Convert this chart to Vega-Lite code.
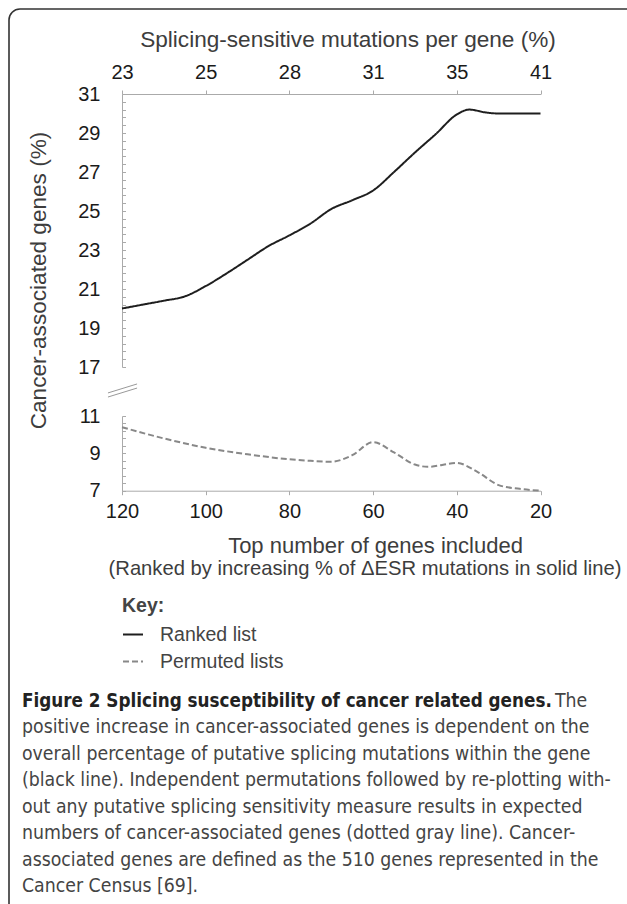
{
  "$schema": "https://vega.github.io/schema/vega-lite/v6.json",
  "width": 640,
  "height": 912,
  "autosize": {"type": "none"},
  "padding": {"left": 9, "top": 9, "right": -22, "bottom": -17},
  "background": "white",
  "config": {
    "view": {"stroke": "#333333", "strokeWidth": 1.6, "cornerRadius": 11},
    "font": "Liberation Sans",
    "axis": {
      "grid": false,
      "labelFlush": false,
      "labelOverlap": false,
      "domainColor": "#aaaaaa",
      "tickColor": "#aaaaaa",
      "labelFont": "Liberation Sans",
      "titleFont": "Liberation Sans",
      "labelColor": "#1a1a1a",
      "titleColor": "#3d3d3d",
      "titleFontWeight": "normal",
      "labelFontSize": 20,
      "titleFontSize": 22.6
    }
  },
  "datasets": {
    "ranked": [
      {"series": "Ranked list", "genes": 120, "pct": 20.0},
      {"series": "Ranked list", "genes": 115, "pct": 20.2},
      {"series": "Ranked list", "genes": 110, "pct": 20.4},
      {"series": "Ranked list", "genes": 105, "pct": 20.62},
      {"series": "Ranked list", "genes": 100, "pct": 21.15},
      {"series": "Ranked list", "genes": 95, "pct": 21.8},
      {"series": "Ranked list", "genes": 90, "pct": 22.5},
      {"series": "Ranked list", "genes": 85, "pct": 23.2},
      {"series": "Ranked list", "genes": 80, "pct": 23.75},
      {"series": "Ranked list", "genes": 75, "pct": 24.35},
      {"series": "Ranked list", "genes": 70, "pct": 25.1},
      {"series": "Ranked list", "genes": 65, "pct": 25.55},
      {"series": "Ranked list", "genes": 60, "pct": 26.05},
      {"series": "Ranked list", "genes": 55, "pct": 27.0},
      {"series": "Ranked list", "genes": 50, "pct": 28.0},
      {"series": "Ranked list", "genes": 45, "pct": 28.95},
      {"series": "Ranked list", "genes": 40, "pct": 29.95},
      {"series": "Ranked list", "genes": 37, "pct": 30.2},
      {"series": "Ranked list", "genes": 33, "pct": 30.05},
      {"series": "Ranked list", "genes": 30, "pct": 30.0},
      {"series": "Ranked list", "genes": 25, "pct": 30.0},
      {"series": "Ranked list", "genes": 20, "pct": 30.0}
    ],
    "permuted": [
      {"series": "Permuted lists", "genes": 120, "pct": 10.4},
      {"series": "Permuted lists", "genes": 110, "pct": 9.8},
      {"series": "Permuted lists", "genes": 100, "pct": 9.3},
      {"series": "Permuted lists", "genes": 90, "pct": 8.95},
      {"series": "Permuted lists", "genes": 80, "pct": 8.68},
      {"series": "Permuted lists", "genes": 75, "pct": 8.6},
      {"series": "Permuted lists", "genes": 70, "pct": 8.55},
      {"series": "Permuted lists", "genes": 65, "pct": 8.9},
      {"series": "Permuted lists", "genes": 60, "pct": 9.6},
      {"series": "Permuted lists", "genes": 55, "pct": 9.05},
      {"series": "Permuted lists", "genes": 50, "pct": 8.4},
      {"series": "Permuted lists", "genes": 47, "pct": 8.28},
      {"series": "Permuted lists", "genes": 40, "pct": 8.48},
      {"series": "Permuted lists", "genes": 35, "pct": 8.0},
      {"series": "Permuted lists", "genes": 30, "pct": 7.3},
      {"series": "Permuted lists", "genes": 25, "pct": 7.1},
      {"series": "Permuted lists", "genes": 20, "pct": 7.0}
    ],
    "breaks": [
      {"xa": 123.35, "xb": 116.4, "ya": 15.67, "yb": 16.13},
      {"xa": 123.35, "xb": 116.4, "ya": 15.46, "yb": 15.92}
    ],
    "caption": [
      {"line": 1, "text": "positive increase in cancer-associated genes is dependent on the"},
      {"line": 2, "text": "overall percentage of putative splicing mutations within the gene"},
      {"line": 3, "text": "(black line). Independent permutations followed by re-plotting with-"},
      {"line": 4, "text": "out any putative splicing sensitivity measure results in expected"},
      {"line": 5, "text": "numbers of cancer-associated genes (dotted gray line). Cancer-"},
      {"line": 6, "text": "associated genes are defined as the 510 genes represented in the"},
      {"line": 7, "text": "Cancer Census [69]."}
    ]
  },
  "layer": [
    {
      "data": {"name": "ranked"},
      "mark": {"type": "line", "interpolate": "monotone", "strokeWidth": 2},
      "encoding": {
        "x": {
          "field": "genes", "type": "quantitative",
          "scale": {"domain": [120, 20], "range": [113, 531.5]},
          "axis": {
            "orient": "top", "offset": -85,
            "values": [120, 100, 80, 60, 40, 20],
            "labelExpr": "datum.value == 120 ? '23' : datum.value == 100 ? '25' : datum.value == 80 ? '28' : datum.value == 60 ? '31' : datum.value == 40 ? '35' : '41'",
            "tickSize": 4, "labelPadding": 8,
            "title": "Splicing-sensitive mutations per gene (%)",
            "titleX": 338.5, "titleY": -55, "titleBaseline": "middle", "titleAlign": "center"
          }
        },
        "y": {
          "field": "pct", "type": "quantitative",
          "scale": {"domain": [17, 31], "range": [358, 85]},
          "axis": {
            "orient": "left", "offset": -113,
            "values": [17, 19, 21, 23, 25, 27, 29, 31],
            "ticks": false, "tickSize": 0, "labelPadding": 22,
            "title": "Cancer-associated genes (%)",
            "titleX": -84, "titleY": 271, "titleAngle": -90,
            "titleBaseline": "middle", "titleAlign": "center"
          }
        },
        "color": {
          "field": "series", "type": "nominal",
          "scale": {"domain": ["Ranked list", "Permuted lists"], "range": ["#1e1e1e", "#888888"]},
          "legend": {
            "title": "Key:", "orient": "none", "legendX": 113, "legendY": 588, "direction": "vertical",
            "titleFontWeight": "bold", "titleFontSize": 19.5, "titleColor": "#444444",
            "labelFontSize": 19.5, "labelColor": "#444444",
            "symbolType": "stroke", "symbolSize": 400, "symbolStrokeWidth": 2,
            "labelOffset": 16, "rowPadding": 6, "titlePadding": 7
          }
        },
        "strokeDash": {
          "field": "series", "type": "nominal",
          "scale": {"domain": ["Ranked list", "Permuted lists"], "range": [[1, 0], [6, 3]]},
          "legend": {
            "title": "Key:", "orient": "none", "legendX": 113, "legendY": 588, "direction": "vertical",
            "titleFontWeight": "bold", "titleFontSize": 19.5, "titleColor": "#444444",
            "labelFontSize": 19.5, "labelColor": "#444444",
            "symbolType": "stroke", "symbolSize": 400, "symbolStrokeWidth": 2,
            "labelOffset": 16, "rowPadding": 6, "titlePadding": 7
          }
        }
      }
    },
    {
      "data": {"name": "permuted"},
      "mark": {"type": "line", "interpolate": "monotone", "strokeWidth": 2},
      "encoding": {
        "x": {
          "field": "genes", "type": "quantitative",
          "scale": {"domain": [120, 20], "range": [113, 531.5]},
          "axis": {
            "orient": "bottom", "offset": -430.3,
            "values": [120, 100, 80, 60, 40, 20],
            "tickSize": 4, "labelPadding": 7,
            "title": "Top number of genes included",
            "titleFontSize": 22,
            "titleX": 366, "titleY": 54.3, "titleBaseline": "middle", "titleAlign": "center"
          }
        },
        "y": {
          "field": "pct", "type": "quantitative",
          "scale": {"domain": [7, 11], "range": [481.7, 407]},
          "axis": {
            "orient": "left", "offset": -113,
            "values": [7, 9, 11],
            "ticks": false, "tickSize": 0, "labelPadding": 22,
            "title": null
          }
        },
        "color": {"field": "series", "type": "nominal", "scale": {"domain": ["Ranked list", "Permuted lists"], "range": ["#1e1e1e", "#888888"]}},
        "strokeDash": {"field": "series", "type": "nominal", "scale": {"domain": ["Ranked list", "Permuted lists"], "range": [[1, 0], [6, 3]]}}
      }
    },
    {
      "data": {"name": "breaks"},
      "mark": {"type": "rule", "color": "#999999", "strokeWidth": 1},
      "encoding": {
        "x": {"field": "xa", "type": "quantitative", "scale": {"domain": [120, 20], "range": [113, 531.5]}, "axis": null},
        "x2": {"field": "xb"},
        "y": {
          "field": "ya", "type": "quantitative",
          "scale": {"domain": [17, 31], "range": [358, 85]},
          "axis": {
            "orient": "right", "offset": -527,
            "values": [17, 17.4, 17.8, 18.2, 18.6, 19, 19.4, 19.8, 20.2, 20.6, 21, 21.4, 21.8, 22.2, 22.6, 23, 23.4, 23.8, 24.2, 24.6, 25, 25.4, 25.8, 26.2, 26.6, 27, 27.4, 27.8, 28.2, 28.6, 29, 29.4, 29.8, 30.2, 30.6, 31],
            "labels": false, "domain": false, "ticks": true, "tickSize": 3.5, "title": null
          }
        },
        "y2": {"field": "yb"}
      }
    },
    {
      "data": {"name": "permuted"},
      "mark": {"type": "line", "strokeOpacity": 0},
      "encoding": {
        "x": {
          "field": "genes", "type": "quantitative",
          "scale": {"domain": [120, 20], "range": [113, 531.5]},
          "axis": {
            "orient": "bottom", "offset": -430.3,
            "domain": false, "ticks": false, "labels": false,
            "title": "(Ranked by increasing % of  ΔESR mutations in solid line)",
            "titleFontSize": 20.2,
            "titleX": 355.5, "titleY": 77.3, "titleBaseline": "middle", "titleAlign": "center"
          }
        },
        "y": {
          "field": "pct", "type": "quantitative",
          "scale": {"domain": [7, 11], "range": [481.7, 407]},
          "axis": {
            "orient": "right", "offset": -527,
            "values": [7, 7.4, 7.8, 8.2, 8.6, 9, 9.4, 9.8, 10.2, 10.6, 11],
            "labels": false, "domain": false, "ticks": true, "tickSize": 3.5, "title": null
          }
        }
      }
    },
    {
      "data": {"values": [{"line": 0, "text": "Figure 2 Splicing susceptibility of cancer related genes."}]},
      "mark": {"type": "text", "align": "left", "baseline": "middle", "font": "Liberation Sans Narrow, DejaVu Sans Condensed, sans-serif", "fontWeight": "bold", "fontSize": 18.7, "color": "#222222"},
      "encoding": {
        "x": {"datum": 0, "type": "quantitative", "scale": {"domain": [0, 1], "range": [13, 600]}, "axis": null},
        "y": {"field": "line", "type": "quantitative", "scale": {"domain": [0, 7], "range": [692, 877]}, "axis": null},
        "text": {"field": "text"}
      }
    },
    {
      "data": {"values": [{"line": 0, "text": "The"}]},
      "mark": {"type": "text", "align": "left", "baseline": "middle", "dx": 533, "font": "Liberation Sans Narrow, DejaVu Sans Condensed, sans-serif", "fontSize": 19.3, "color": "#444444"},
      "encoding": {
        "x": {"datum": 0, "type": "quantitative", "scale": {"domain": [0, 1], "range": [13, 600]}, "axis": null},
        "y": {"field": "line", "type": "quantitative", "scale": {"domain": [0, 7], "range": [692, 877]}, "axis": null},
        "text": {"field": "text"}
      }
    },
    {
      "data": {"name": "caption"},
      "mark": {"type": "text", "align": "left", "baseline": "middle", "font": "Liberation Sans Narrow, DejaVu Sans Condensed, sans-serif", "fontSize": 19.3, "color": "#444444"},
      "encoding": {
        "x": {"datum": 0, "type": "quantitative", "scale": {"domain": [0, 1], "range": [13, 600]}, "axis": null},
        "y": {"field": "line", "type": "quantitative", "scale": {"domain": [0, 7], "range": [692, 877]}, "axis": null},
        "text": {"field": "text"}
      }
    }
  ],
  "resolve": {"scale": {"x": "independent", "y": "independent", "color": "shared", "strokeDash": "shared"}}
}
